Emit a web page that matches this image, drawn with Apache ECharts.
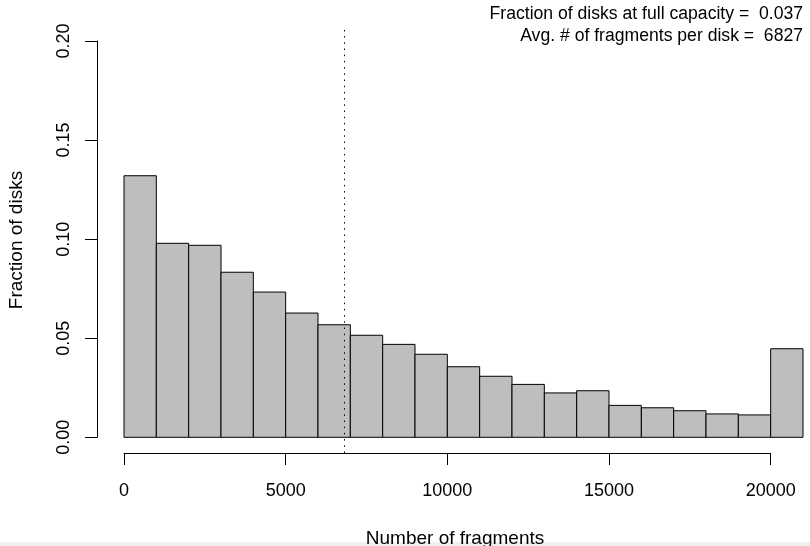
<!DOCTYPE html>
<html>
<head>
<meta charset="utf-8">
<script src="https://cdn.jsdelivr.net/npm/echarts@6/dist/echarts.min.js"></script>
<style>
  html, body { margin: 0; padding: 0; background: #fff; }
  #chart { width: 810px; height: 546px; }
</style>
</head>
<body>
<div id="chart"></div>
<script>
// histogram bins (number of fragments) and bar heights (fraction of disks)
var binLower = [0, 1000, 2000, 3000, 4000, 5000, 6000, 7000, 8000, 9000, 10000,
  11000, 12000, 13000, 14000, 15000, 16000, 17000, 18000, 19000, 20000]
var binUpper = [1000, 2000, 3000, 4000, 5000, 6000, 7000, 8000, 9000, 10000, 11000,
  12000, 13000, 14000, 15000, 16000, 17000, 18000, 19000, 20000, 21000]
var fractions = [0.1320, 0.0979, 0.0969, 0.0833, 0.0733, 0.0627, 0.0568, 0.0515,
  0.0469, 0.0419, 0.0356, 0.0308, 0.0267, 0.0224, 0.0235, 0.0161, 0.0149,
  0.0134, 0.0118, 0.0113, 0.0447]
var xTicks = [0, 5000, 10000, 15000, 20000]
var yTicks = [0, 0.05, 0.10, 0.15, 0.20]
var avgFragments = 6827
var fullCapacity = 0.037

var font = 'Liberation Sans, Arial, Helvetica, sans-serif'

var histData = binLower.map(function (lo, i) {
  return [lo, binUpper[i], fractions[i]]
})

var chart = echarts.init(document.getElementById('chart'))
chart.setOption({
  animation: false,
  backgroundColor: '#fff',
  grid: [
    // bars
    { left: 124, right: 7, top: 41, bottom: 108.7 },
    // dotted mean line spans the whole plot region
    { left: 124, right: 7, top: 29, bottom: 93 },
    // x axis drawn from 0 to 20000
    { left: 124, right: 39.3, top: 41, bottom: 93 }
  ],
  xAxis: [
    { gridIndex: 0, type: 'value', min: 0, max: 21000, show: false },
    { gridIndex: 1, type: 'value', min: 0, max: 21000, show: false },
    {
      gridIndex: 2,
      type: 'value',
      min: xTicks[0],
      max: xTicks[xTicks.length - 1],
      interval: 5000,
      splitLine: { show: false },
      axisLine: { show: true, onZero: false, lineStyle: { color: '#000', width: 1 } },
      axisTick: { show: true, length: 12, lineStyle: { color: '#000' } },
      axisLabel: {
        margin: 29,
        color: '#000',
        fontFamily: font,
        fontSize: 18,
        showMinLabel: true,
        showMaxLabel: true,
        formatter: function (v) { return String(v) }
      }
    }
  ],
  yAxis: [
    {
      gridIndex: 0,
      type: 'value',
      min: yTicks[0],
      max: yTicks[yTicks.length - 1],
      interval: 0.05,
      offset: 27,
      splitLine: { show: false },
      axisLine: { show: true, onZero: false, lineStyle: { color: '#000', width: 1 } },
      axisTick: { show: true, length: 12, lineStyle: { color: '#000' } },
      axisLabel: {
        rotate: 90,
        margin: 24,
        color: '#000',
        fontFamily: font,
        fontSize: 18,
        formatter: function (v) { return v.toFixed(2) }
      }
    },
    { gridIndex: 1, type: 'value', min: 0, max: 1, show: false },
    { gridIndex: 2, type: 'value', min: 0, max: 1, show: false }
  ],
  series: [
    {
      type: 'custom',
      xAxisIndex: 0,
      yAxisIndex: 0,
      data: histData,
      encode: { x: [0, 1], y: 2 },
      renderItem: function (params, api) {
        var topLeft = api.coord([api.value(0), api.value(2)])
        var bottomRight = api.coord([api.value(1), 0])
        return {
          type: 'rect',
          shape: {
            x: topLeft[0],
            y: topLeft[1],
            width: bottomRight[0] - topLeft[0],
            height: bottomRight[1] - topLeft[1]
          },
          style: { fill: '#BEBEBE', stroke: '#000', lineWidth: 1 }
        }
      }
    },
    {
      type: 'line',
      xAxisIndex: 1,
      yAxisIndex: 1,
      data: [],
      markLine: {
        silent: true,
        symbol: 'none',
        label: { show: false },
        lineStyle: { color: '#000', width: 1, type: [1.5, 4.7] },
        data: [{ xAxis: avgFragments }]
      }
    }
  ],
  graphic: [
    // faint grey strip along the bottom edge of the original picture
    {
      type: 'rect',
      left: 0,
      bottom: 0,
      z: -1,
      shape: { width: 810, height: 4 },
      style: { fill: '#efefef' }
    },
    {
      type: 'text',
      right: 7,
      top: 5,
      style: {
        text: 'Fraction of disks at full capacity =  ' + fullCapacity,
        fill: '#000',
        font: '17.6px ' + font
      }
    },
    {
      type: 'text',
      right: 7,
      top: 27,
      style: {
        text: 'Avg. # of fragments per disk =  ' + avgFragments,
        fill: '#000',
        font: '17.6px ' + font
      }
    },
    {
      type: 'text',
      x: 455,
      y: 539,
      style: {
        text: 'Number of fragments',
        align: 'center',
        verticalAlign: 'middle',
        fill: '#000',
        font: '19px ' + font
      }
    },
    {
      type: 'text',
      x: 17,
      y: 240,
      rotation: Math.PI / 2,
      style: {
        text: 'Fraction of disks',
        align: 'center',
        verticalAlign: 'middle',
        fill: '#000',
        font: '19px ' + font
      }
    }
  ]
})
</script>
</body>
</html>
